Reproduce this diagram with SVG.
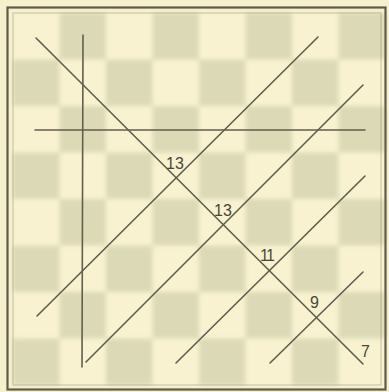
<svg xmlns="http://www.w3.org/2000/svg" width="389" height="392" viewBox="0 0 389 392">
<defs>
<filter id="soft" x="-5%" y="-5%" width="110%" height="110%"><feGaussianBlur stdDeviation="2.2"/></filter>
<pattern id="checks" x="13" y="13" width="93" height="93" patternUnits="userSpaceOnUse">
<rect x="0" y="0" width="93" height="93" fill="#f8f2d1"/>
<rect x="46.5" y="0" width="46.5" height="46.5" fill="#dcdab6"/>
<rect x="0" y="46.5" width="46.5" height="46.5" fill="#dcdab6"/>
</pattern>
</defs>
<style>
.frame{fill:none;stroke:#5f5b4a}
.ln{stroke:#625e4c;stroke-width:1.6;stroke-linecap:round;fill:none}
.lbl{font-family:"Liberation Sans","DejaVu Sans",sans-serif;font-size:16px;fill:#4a4638}
</style>
<rect width="389" height="392" fill="#f6f0cf"/>
<g id="board" filter="url(#soft)">
<rect x="13" y="13" width="372" height="372" fill="url(#checks)"/>
</g>
<g id="frame">
<rect class="frame" x="7.5" y="7.5" width="378" height="382" stroke-width="2.2"/>
<rect class="frame" x="13" y="13" width="368" height="372" stroke-width="0.8" stroke-opacity="0.4"/>
</g>
<g id="connectors">
<line class="ln" x1="36" y1="38" x2="363" y2="364"/>
<line class="ln" x1="83" y1="35" x2="82" y2="367"/>
<line class="ln" x1="35" y1="130" x2="365" y2="130"/>
<line class="ln" x1="318" y1="37" x2="37" y2="316"/>
<line class="ln" x1="363" y1="85" x2="86" y2="362"/>
<line class="ln" x1="365" y1="176" x2="176" y2="363"/>
<line class="ln" x1="363" y1="272" x2="270" y2="363"/>
</g>
<g id="labels">
<text class="lbl" x="166" y="169">13</text>
<text class="lbl" x="214" y="216">13</text>
<text class="lbl" x="260" y="261" textLength="15" lengthAdjust="spacing">11</text>
<text class="lbl" x="310" y="308">9</text>
<text class="lbl" x="361" y="357">7</text>
</g>
</svg>
